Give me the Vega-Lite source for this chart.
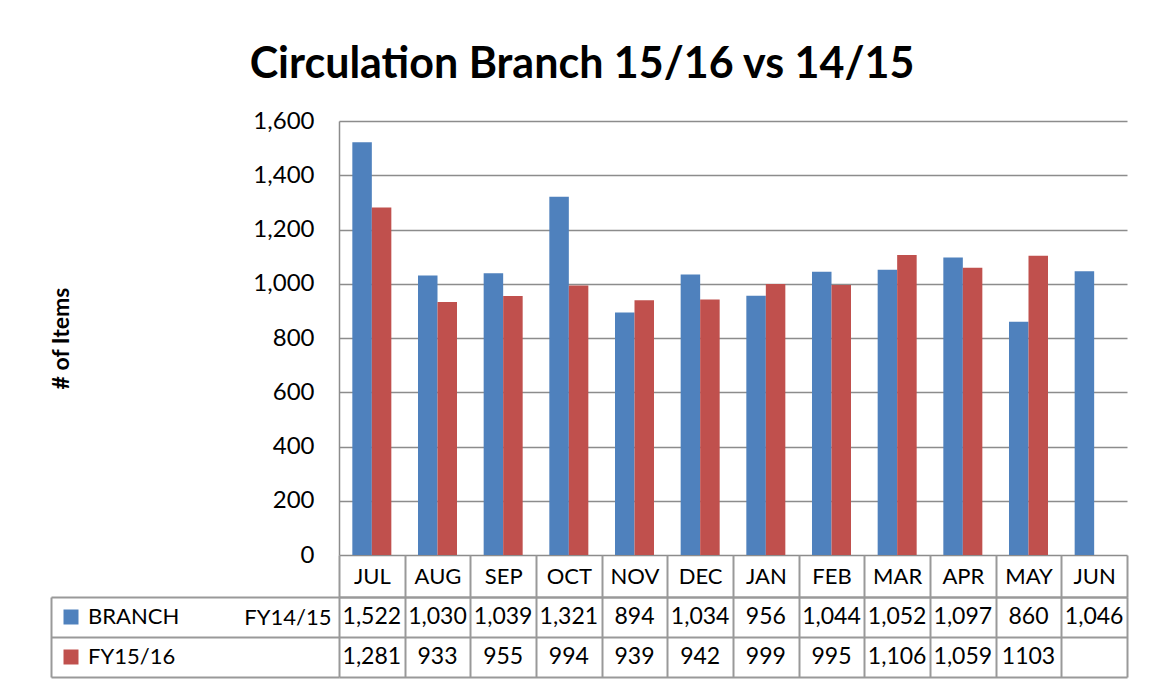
{
  "$schema": "https://vega.github.io/schema/vega-lite/v6.json",
  "padding": {"left": 50, "top": 44, "right": 20, "bottom": 5},
  "background": "white",
  "title": {"text": "Circulation Branch 15/16 vs 14/15", "fontSize": 43, "font": "Lato", "fontWeight": "bold", "color": "black", "anchor": "middle", "offset": 22, "dx": -7},
  "config": {"view": {"stroke": null}, "font": "Lato"},
  "datasets": {
    "circ": [
      {"month": "JUL", "series": "BRANCH", "value": 1522, "label": "1,522"},
      {"month": "JUL", "series": "FY15/16", "value": 1281, "label": "1,281"},
      {"month": "AUG", "series": "BRANCH", "value": 1030, "label": "1,030"},
      {"month": "AUG", "series": "FY15/16", "value": 933, "label": "933"},
      {"month": "SEP", "series": "BRANCH", "value": 1039, "label": "1,039"},
      {"month": "SEP", "series": "FY15/16", "value": 955, "label": "955"},
      {"month": "OCT", "series": "BRANCH", "value": 1321, "label": "1,321"},
      {"month": "OCT", "series": "FY15/16", "value": 994, "label": "994"},
      {"month": "NOV", "series": "BRANCH", "value": 894, "label": "894"},
      {"month": "NOV", "series": "FY15/16", "value": 939, "label": "939"},
      {"month": "DEC", "series": "BRANCH", "value": 1034, "label": "1,034"},
      {"month": "DEC", "series": "FY15/16", "value": 942, "label": "942"},
      {"month": "JAN", "series": "BRANCH", "value": 956, "label": "956"},
      {"month": "JAN", "series": "FY15/16", "value": 999, "label": "999"},
      {"month": "FEB", "series": "BRANCH", "value": 1044, "label": "1,044"},
      {"month": "FEB", "series": "FY15/16", "value": 995, "label": "995"},
      {"month": "MAR", "series": "BRANCH", "value": 1052, "label": "1,052"},
      {"month": "MAR", "series": "FY15/16", "value": 1106, "label": "1,106"},
      {"month": "APR", "series": "BRANCH", "value": 1097, "label": "1,097"},
      {"month": "APR", "series": "FY15/16", "value": 1059, "label": "1,059"},
      {"month": "MAY", "series": "BRANCH", "value": 860, "label": "860"},
      {"month": "MAY", "series": "FY15/16", "value": 1103, "label": "1103"},
      {"month": "JUN", "series": "BRANCH", "value": 1046, "label": "1,046"},
      {"month": "JUN", "series": "FY15/16", "value": null, "label": ""}
    ]
  },
  "bounds": "flush",
  "spacing": 42,
  "vconcat": [
    {
      "width": 788,
      "height": 434,
      "data": {"name": "circ"},
      "mark": {"type": "bar"},
      "encoding": {
        "x": {"field": "month", "type": "nominal", "sort": ["JUL","AUG","SEP","OCT","NOV","DEC","JAN","FEB","MAR","APR","MAY","JUN"], "scale": {"paddingInner": 0.406, "paddingOuter": 0.203}, "axis": null},
        "xOffset": {"field": "series", "type": "nominal", "sort": ["BRANCH", "FY15/16"]},
        "y": {
          "field": "value", "type": "quantitative",
          "scale": {"domain": [0, 1600], "nice": false},
          "axis": {
            "values": [0, 200, 400, 600, 800, 1000, 1200, 1400, 1600],
            "format": ",d",
            "grid": true, "gridColor": "#8c8c8c", "gridWidth": 1.5,
            "ticks": false,
            "domain": true, "domainColor": "#8c8c8c", "domainWidth": 1.5,
            "labelPadding": 25, "labelFontSize": 24, "labelFont": "Lato", "labelColor": "black",
            "title": "# of Items", "titleFontSize": 23, "titleFont": "Lato", "titleFontWeight": "bold", "titleColor": "black", "titlePadding": 179
          }
        },
        "color": {
          "field": "series", "type": "nominal",
          "scale": {"domain": ["BRANCH", "FY15/16"], "range": ["#4F81BD", "#C0504D"]},
          "legend": {
            "title": null, "orient": "none", "legendX": -279, "legendY": 485, "padding": 0,
            "direction": "vertical", "symbolType": "square", "symbolSize": 225, "symbolStrokeWidth": 0,
            "labelFontSize": 22, "labelFont": "Lato", "labelColor": "black", "labelOffset": 6, "rowPadding": 18
          }
        }
      }
    },
    {
      "width": 788,
      "height": 80,
      "data": {"name": "circ"},
      "mark": {"type": "text", "fontSize": 23, "font": "Lato", "color": "black", "baseline": "middle"},
      "encoding": {
        "x": {
          "field": "month", "type": "nominal", "sort": ["JUL","AUG","SEP","OCT","NOV","DEC","JAN","FEB","MAR","APR","MAY","JUN"],
          "scale": {"type": "band", "paddingInner": 0, "paddingOuter": 0},
          "axis": {
            "orient": "top", "title": null, "tickBand": "extent",
            "ticks": true, "tickSize": 42, "tickColor": "#999999", "tickWidth": 2,
            "domain": true, "domainColor": "#999999", "domainWidth": 2,
            "grid": true, "gridColor": "#999999", "gridWidth": 2,
            "labelBaseline": "middle", "labelPadding": -21, "labelFontSize": 22, "labelFont": "Lato", "labelColor": "black", "labelAngle": 0
          }
        },
        "y": {
          "field": "series", "type": "nominal", "sort": ["BRANCH", "FY15/16"],
          "scale": {"type": "band", "paddingInner": 0, "paddingOuter": 0},
          "axis": {
            "orient": "left", "title": null, "offset": 288, "tickBand": "extent",
            "ticks": true, "tickSize": -288, "tickColor": "#999999", "tickWidth": 2,
            "domain": true, "domainColor": "#999999", "domainWidth": 2,
            "grid": true, "gridColor": "#999999", "gridWidth": 2,
            "labelExpr": "datum.value === 'BRANCH' ? 'FY14/15' : ''",
            "labelAlign": "right", "labelBaseline": "middle", "labelPadding": 8, "labelFontSize": 22, "labelFont": "Lato", "labelColor": "black"
          }
        },
        "text": {"field": "label", "type": "nominal"}
      }
    }
  ]
}
